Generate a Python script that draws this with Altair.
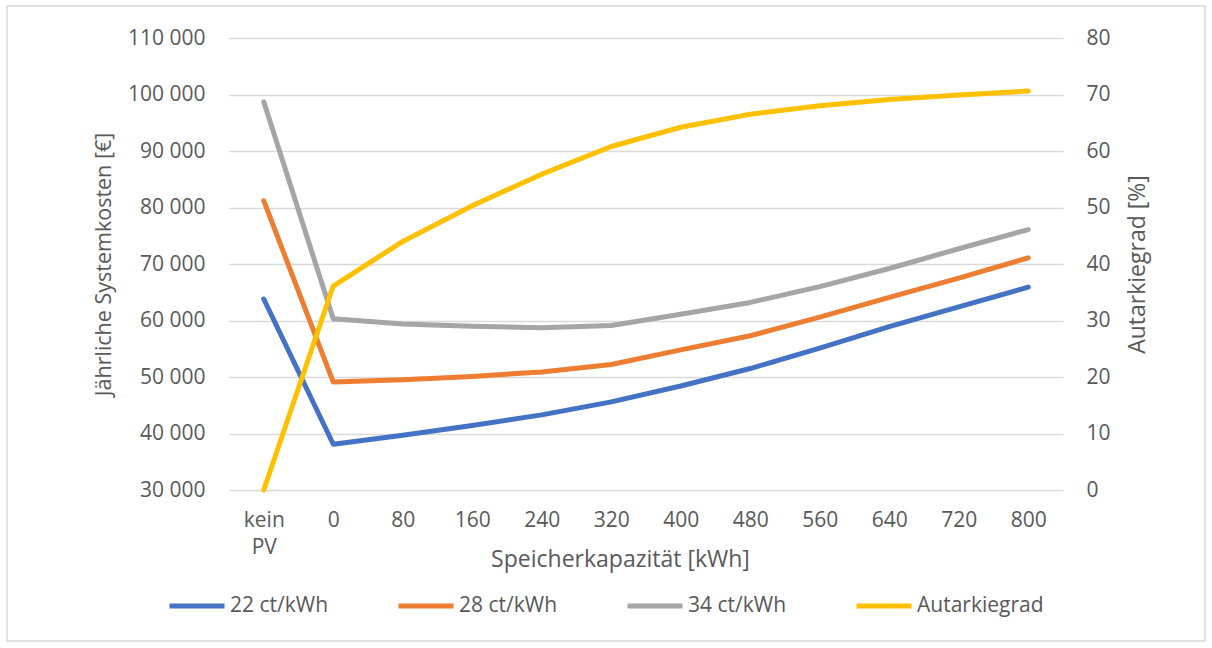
import altair as alt
import pandas as pd

categories = ["kein PV", "0", "80", "160", "240", "320", "400", "480", "560", "640", "720", "800"]
cost_22 = [63800, 38100, 39700, 41400, 43300, 45600, 48400, 51500, 55100, 58900, 62400, 65900]
cost_28 = [81200, 49100, 49500, 50100, 50900, 52200, 54800, 57300, 60600, 64100, 67500, 71100]
cost_34 = [98700, 60300, 59400, 59000, 58700, 59100, 61100, 63200, 66000, 69200, 72700, 76100]
autarkie = [0, 36.1, 44.0, 50.3, 55.9, 60.8, 64.2, 66.5, 68.0, 69.1, 69.9, 70.6]
series_names = ["22 ct/kWh", "28 ct/kWh", "34 ct/kWh", "Autarkiegrad"]
series_colors = ["#4472C4", "#ED7D31", "#A5A5A5", "#FFC000"]
left_ticks = [30000, 40000, 50000, 60000, 70000, 80000, 90000, 100000, 110000]
right_ticks = [0, 10, 20, 30, 40, 50, 60, 70, 80]

FONT = "Open Sans"
TXT = "#595959"
GRID = "#D9D9D9"

rows = []
for name, vals in zip(series_names[:3], [cost_22, cost_28, cost_34]):
    for i, (c, v) in enumerate(zip(categories, vals)):
        rows.append({"Kapazität": c, "idx": i, "Serie": name, "Wert": v})
cost_df = pd.DataFrame(rows)
aut_df = pd.DataFrame({"Kapazität": categories, "idx": list(range(len(categories))),
                       "Serie": series_names[3], "Wert": autarkie})

x_enc = alt.X(
    "Kapazität:N",
    sort=categories,
    scale=alt.Scale(type="point", padding=0.5),
    axis=alt.Axis(
        title="Speicherkapazität [kWh]",
        labelAngle=0,
        labelExpr="datum.value == 'kein PV' ? ['kein', 'PV'] : datum.value",
        labelLineHeight=27,
        labelPadding=19,
        labelBaseline="top",
        grid=False,
        domain=False,
        ticks=False,
        titleX=391,
        titleY=69,
        titleAlign="center",
        titleBaseline="middle",
        titleFontSize=23,
    ),
)

color_enc = alt.Color(
    "Serie:N",
    scale=alt.Scale(domain=series_names, range=series_colors),
    legend=alt.Legend(
        title=None,
        orient="none",
        direction="horizontal",
        columns=4,
        legendX=-62,
        legendY=538,
        symbolType="stroke",
        symbolSize=3025,
        symbolStrokeWidth=5,
        labelOffset=3,
        columnPadding=31,
        gridAlign="all",
        labelFontSize=21,
        labelFont=FONT,
        labelColor=TXT,
        padding=0,
    ),
)

line_props = dict(strokeWidth=5, strokeCap="round", strokeJoin="round")

cost = alt.Chart(cost_df).mark_line(**line_props).encode(
    x=x_enc,
    y=alt.Y(
        "Wert:Q",
        scale=alt.Scale(domain=[30000, 110000], nice=False, zero=False),
        axis=alt.Axis(
            title="Jährliche Systemkosten [€]",
            values=left_ticks,
            labelExpr="replace(format(datum.value, ','), ',', ' ')",
            labelPadding=24,
            domain=False,
            ticks=False,
            grid=True,
            titleAngle=270,
            titleX=-125,
            titleY=226,
            titleAlign="center",
            titleBaseline="middle",
            titleFontSize=21.5,
        ),
    ),
    color=color_enc,
    order=alt.Order("idx:Q"),
)

aut = alt.Chart(aut_df).mark_line(**line_props).encode(
    x=x_enc,
    y=alt.Y(
        "Wert:Q",
        scale=alt.Scale(domain=[0, 80], nice=False, zero=False),
        axis=alt.Axis(
            title="Autarkiegrad [%]",
            orient="right",
            values=right_ticks,
            labelPadding=23,
            domain=False,
            ticks=False,
            grid=False,
            titleAngle=270,
            titleX=74,
            titleY=226,
            titleAlign="center",
            titleBaseline="middle",
            titleFontSize=23,
        ),
    ),
    color=color_enc,
    order=alt.Order("idx:Q"),
)

border = alt.Chart(alt.Data(values=[{"a": 1}])).mark_rect(
    fill=None, stroke=GRID, strokeWidth=1.5
).encode(
    x=alt.value(-222), x2=alt.value(976), y=alt.value(-32), y2=alt.value(603)
)

chart = alt.layer(cost, aut, border).resolve_scale(y="independent").properties(
    width=834,
    height=452,
    autosize=alt.AutoSizeParams(type="none"),
    padding={"left": 229, "top": 38, "right": 149, "bottom": 158},
    background="white",
).configure_axis(
    labelFont=FONT,
    titleFont=FONT,
    labelFontSize=21,
    labelColor=TXT,
    titleColor=TXT,
    titleFontWeight="normal",
    gridColor=GRID,
    gridWidth=1.3,
).configure_view(stroke=None)

chart.save("out.html", embed_options={"renderer": "svg", "actions": False})
